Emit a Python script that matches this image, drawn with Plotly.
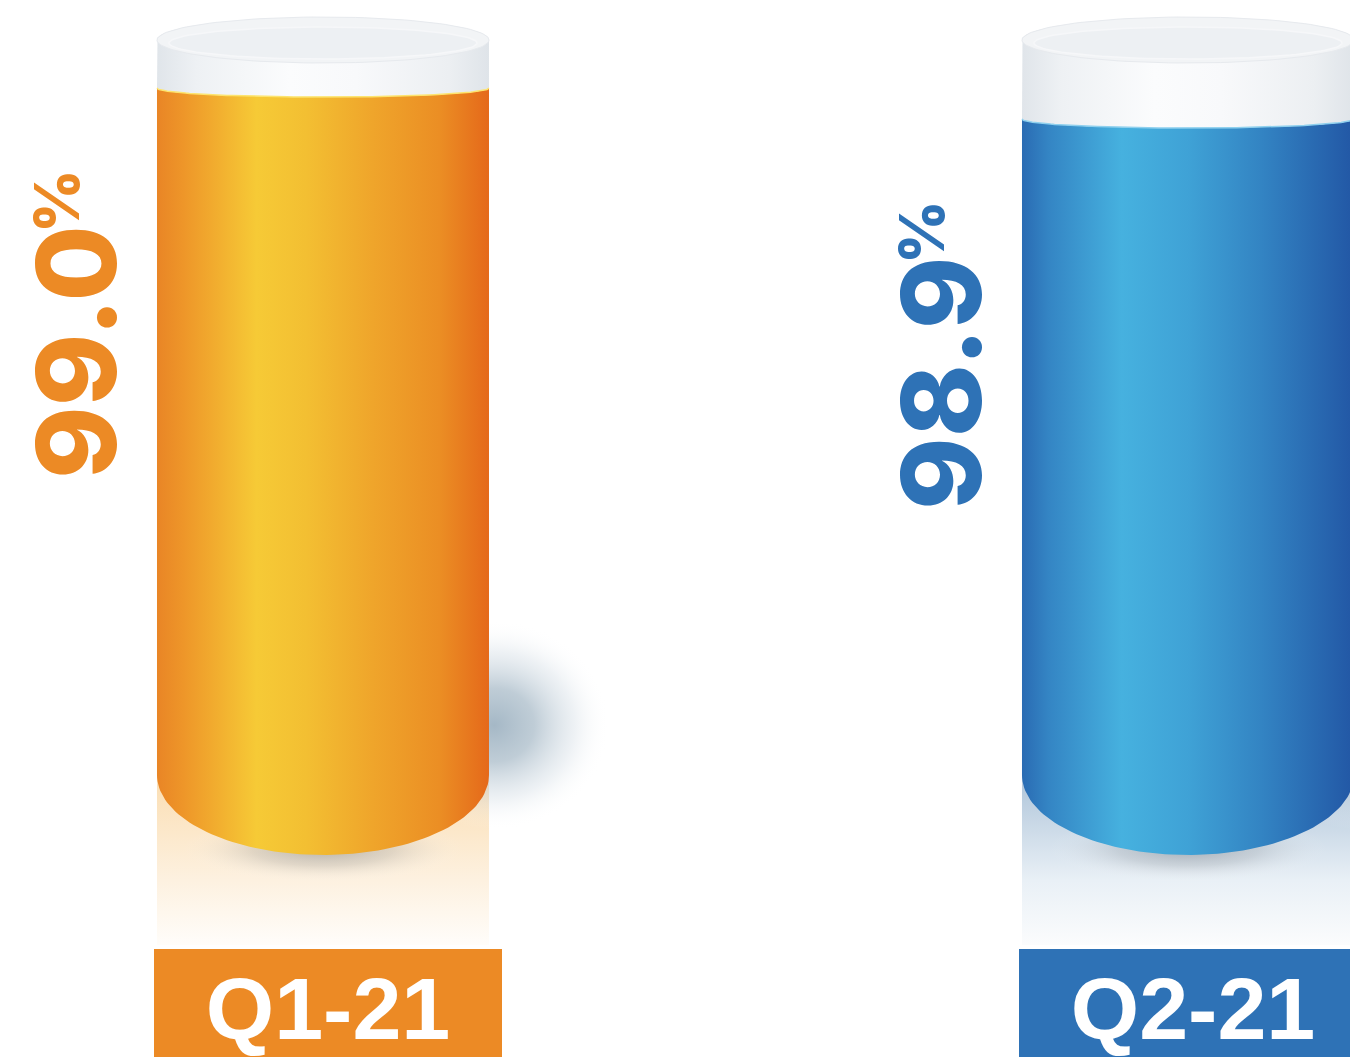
import numpy as np
import plotly.graph_objects as go

# ---------------- data ----------------
categories = ["Q1-21", "Q2-21"]
values = [99.0, 98.9]
unit = "%"

# ---------------- styles ----------------
W, H = 1350, 1057
X_RANGE = [-0.3734, 1.1873]
Y_RANGE = [95.874, 99.284]
BASE = 96.784  # bar floor on the value axis

label_colors = ["#ec8a25", "#2e72b6"]
body_scales = [
    [[0, "#e98526"], [0.08, "#ee9629"], [0.3, "#f6ca36"], [0.45, "#f3bf32"],
     [0.65, "#efa52b"], [0.85, "#eb8e24"], [1, "#e5691a"]],
    [[0, "#2a6bb3"], [0.08, "#3485c4"], [0.3, "#46b1df"], [0.5, "#3fa2d6"],
     [0.72, "#3384c3"], [1, "#2257a5"]],
]
refl_scales = [
    [[0, "#fffdfa"], [0.25, "#fdf1e0"], [0.6, "#fbe0b8"], [1, "#fbe0b8"]],
    [[0, "#fbfcfd"], [0.25, "#e9f0f6"], [0.6, "#b6cadd"], [1, "#b6cadd"]],
]
highlight = ["#fde46e", "#8fd0ee"]
cap_scale = [[0, "#e0e5ea"], [0.12, "#eef1f4"], [0.4, "#fbfcfd"], [0.6, "#f8f9fb"],
             [0.88, "#eceff2"], [1, "#dfe4e9"]]

px_x = W / (X_RANGE[1] - X_RANGE[0])
px_y = H / (Y_RANGE[1] - Y_RANGE[0])


def dx(p):
    return p / px_x


def dy(p):
    return p / px_y


HW = dx(166)
CAP_TOP = Y_RANGE[1] - dy(40)
RY_S, RY_B, RY_C = dy(9), dy(80), dy(23)

fig = go.Figure()


def arc(c, yc, rx, ry, t0, t1, n=80):
    t = np.linspace(t0, t1, n)
    return list(c + rx * np.cos(t)), list(yc + ry * np.sin(t))


def poly(xs, ys, **kw):
    fig.add_trace(go.Scatter(x=xs, y=ys, mode="lines", fill="toself",
                             line=dict(width=0), hoverinfo="skip",
                             showlegend=False, **kw))


for i, (cat, v) in enumerate(zip(categories, values)):
    c = i
    # reflection below the cylinder
    y0, y1 = BASE + dy(88), BASE - dy(170)
    poly([c - HW, c + HW, c + HW, c - HW, c - HW], [y1, y1, y0, y0, y1],
         fillgradient=dict(type="vertical", colorscale=refl_scales[i]))
    # drop shadow under the bottom
    ex, ey = arc(c, BASE - dy(74), HW * 0.85, dy(34), 0, 2 * np.pi)
    poly(ex, ey, fillgradient=dict(type="radial",
         colorscale=[[0, "rgba(110,118,128,0.5)"], [0.5, "rgba(140,145,150,0.25)"],
                     [1, "rgba(255,255,255,0)"]]))
    # side shadow
    ex, ey = arc(c + HW + dx(5), BASE + dy(50), dx(115), dy(105), 0, 2 * np.pi)
    poly(ex, ey, fillgradient=dict(type="radial",
         colorscale=[[0, "rgba(160,180,195,0.95)"], [0.35, "rgba(170,188,201,0.75)"],
                     [0.7, "rgba(205,216,225,0.35)"], [1, "rgba(255,255,255,0)"]]))
    # body (filled part)
    xs, ys = [c - HW], [BASE]
    ax, ay = arc(c, v, HW, RY_S, np.pi, 2 * np.pi)
    xs += ax; ys += ay
    xs += [c + HW]; ys += [BASE]
    bx, by = arc(c, BASE, HW, RY_B, 0, -np.pi)
    xs += bx; ys += by
    poly(xs, ys, fillgradient=dict(type="horizontal", colorscale=body_scales[i]))
    # cap (empty part)
    xs, ys = [c - HW], [v]
    ux, uy = arc(c, CAP_TOP, HW, RY_C, np.pi, 0)
    xs += ux; ys += uy
    xs += [c + HW]; ys += [v]
    lx, ly = arc(c, v, HW, RY_S, 2 * np.pi, np.pi)
    xs += lx; ys += ly
    poly(xs, ys, fillgradient=dict(type="horizontal", colorscale=cap_scale))
    # top face
    tx, ty = arc(c, CAP_TOP, HW, RY_C, 0, 2 * np.pi, 120)
    fig.add_trace(go.Scatter(x=tx, y=ty, mode="lines", fill="toself",
                             fillcolor="#f2f4f6", line=dict(width=1, color="#e7eaee"),
                             hoverinfo="skip", showlegend=False))
    ix, iy = arc(c, CAP_TOP - dy(3), HW - dx(12), dy(16), 0, 2 * np.pi, 120)
    fig.add_trace(go.Scatter(x=ix, y=iy, mode="lines", fill="toself",
                             fillcolor="#edf0f3", line=dict(width=1.5, color="#f6f7f9"),
                             hoverinfo="skip", showlegend=False))
    # surface highlight
    fig.add_trace(go.Scatter(x=ax, y=ay, mode="lines",
                             line=dict(width=1.5, color=highlight[i]),
                             hoverinfo="skip", showlegend=False))

    # value label
    fig.add_annotation(x=c - HW, y=v, xref="x", yref="y", xshift=-81, yshift=-264,
                       text=f"{v:.1f}", showarrow=False, textangle=-90,
                       xanchor="center", yanchor="middle",
                       font=dict(family="Inter", size=110, weight=800,
                                 color=label_colors[i]))
    fig.add_annotation(x=c - HW, y=v, xref="x", yref="y", xshift=-101, yshift=-113,
                       text=unit, showarrow=False, textangle=-90,
                       xanchor="center", yanchor="middle",
                       font=dict(family="Inter", size=62, weight=800,
                                 color=label_colors[i]))
    # category label box
    fig.add_annotation(x=c, y=1 - 949 / H, xref="x", yref="paper", xshift=5,
                       text=f"<b>{cat}</b>", showarrow=False,
                       xanchor="center", yanchor="top", width=348, height=118,
                       borderpad=0, borderwidth=0, bgcolor=label_colors[i],
                       font=dict(family="Liberation Sans", size=88, color="white"))

fig.update_layout(
    width=W, height=H, margin=dict(l=0, r=0, t=0, b=0),
    paper_bgcolor="white", plot_bgcolor="white", showlegend=False,
    hovermode=False,
    xaxis=dict(range=X_RANGE, visible=False, fixedrange=True),
    yaxis=dict(range=Y_RANGE, visible=False, fixedrange=True),
)
fig.write_html("out.html", config={"displayModeBar": False})
